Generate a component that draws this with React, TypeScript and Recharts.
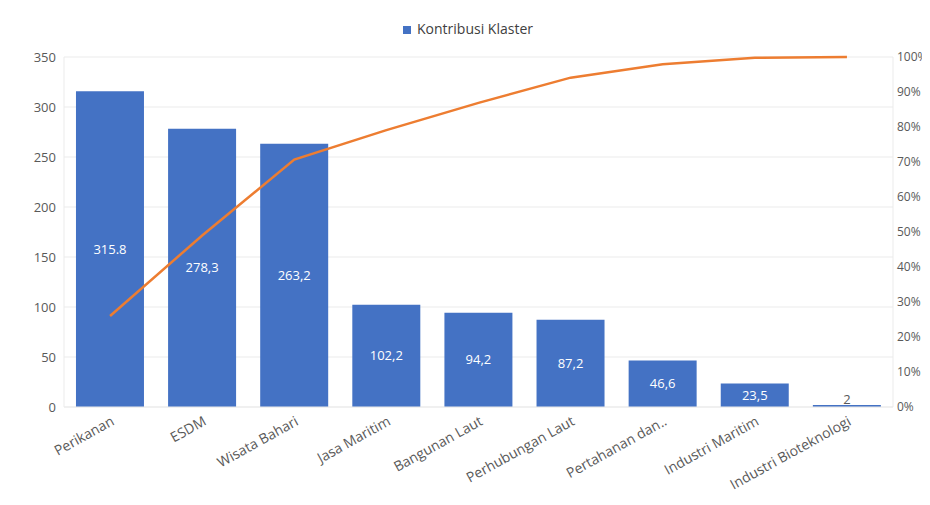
import React from "react";
import {
  ComposedChart,
  Bar,
  Line,
  XAxis,
  YAxis,
  CartesianGrid,
  Legend,
  LabelList,
} from "recharts";

const categories = [
  "Perikanan",
  "ESDM",
  "Wisata Bahari",
  "Jasa Maritim",
  "Bangunan Laut",
  "Perhubungan Laut",
  "Pertahanan dan..",
  "Industri Maritim",
  "Industri Bioteknologi",
];
const kontribusi = [315.8, 278.3, 263.2, 102.2, 94.2, 87.2, 46.6, 23.5, 2];
const kontribusiLabels = ["315.8", "278,3", "263,2", "102,2", "94,2", "87,2", "46,6", "23,5", "2"];
// cumulative share (%)
const kumulatif = [26.0, 49.0, 70.7, 79.1, 86.9, 94.1, 97.9, 99.8, 100];
const leftTicks = [0, 50, 100, 150, 200, 250, 300, 350];
const rightTicks = [0, 10, 20, 30, 40, 50, 60, 70, 80, 90, 100];

const FONT = "'Open Sans', sans-serif";
const TEXT = "#595959";
const FRAME = "#ebebeb";

const data = categories.map((name, i) => ({
  name,
  value: kontribusi[i],
  label: kontribusiLabels[i],
  cum: kumulatif[i],
}));

const AxisTick = (props: any) => {
  const { x, y, payload } = props;
  return (
    <g transform={`translate(${x},${y}) rotate(-29)`}>
      <text x={0} y={0} dy="0.75em" textAnchor="end" fill={TEXT} fontSize={14} fontFamily={FONT}>
        {payload.value}
      </text>
    </g>
  );
};

const BarLabel = (props: any) => {
  const { x, y, width, height, index } = props;
  const text = kontribusiLabels[index];
  const cx = x + width / 2;
  if (height < 20) {
    return (
      <text x={cx} y={y - 1} textAnchor="middle" fill={TEXT} fontSize={13} fontFamily={FONT}>
        {text}
      </text>
    );
  }
  return (
    <text x={cx} y={y + height / 2} dy="0.35em" textAnchor="middle" fill="#ffffff" fontSize={13} fontFamily={FONT}>
      {text}
    </text>
  );
};

export default function App() {
  return (
    <div style={{ margin: -8, background: "#fff", width: 930, height: 505 }}>
      <ComposedChart
        width={930}
        height={505}
        data={data}
        margin={{ top: 17, right: 0, bottom: 8, left: 8 }}
        barCategoryGap="13%"
      >
        <Legend
          verticalAlign="top"
          align="center"
          height={40}
          iconType="square"
          iconSize={8}
          wrapperStyle={{ fontFamily: FONT, fontSize: 14, color: TEXT, top: 19, left: 12 }}
          formatter={(v: any) => <span style={{ color: "#404040", marginLeft: 2 }}>{v}</span>}
        />
        <CartesianGrid yAxisId="left" vertical={false} stroke={FRAME} />
        <XAxis
          dataKey="name"
          interval={0}
          tick={<AxisTick />}
          tickLine={false}
          axisLine={{ stroke: FRAME }}
          height={90}
        />
        <YAxis
          yAxisId="left"
          domain={[0, 350]}
          ticks={leftTicks}
          width={56}
          tickLine={false}
          axisLine={{ stroke: FRAME }}
          tick={{ fill: TEXT, fontSize: 13, fontFamily: FONT }}
        />
        <YAxis
          yAxisId="right"
          orientation="right"
          domain={[0, 100]}
          ticks={rightTicks}
          width={37}
          tickLine={false}
          tickMargin={0}
          axisLine={{ stroke: FRAME }}
          tickFormatter={(v: number) => `${v}%`}
          tick={{ fill: TEXT, fontSize: 12, fontFamily: FONT, dx: -2 }}
        />
        <Bar
          yAxisId="left"
          dataKey="value"
          name="Kontribusi Klaster"
          fill="#4472C4"
          legendType="square"
          isAnimationActive={false}
        >
          <LabelList dataKey="label" content={<BarLabel />} />
        </Bar>
        <Line
          yAxisId="right"
          type="linear"
          dataKey="cum"
          name="Kumulatif"
          legendType="none"
          stroke="#ED7D31"
          strokeWidth={2.5}
          dot={false}
          isAnimationActive={false}
        />
      </ComposedChart>
    </div>
  );
}
